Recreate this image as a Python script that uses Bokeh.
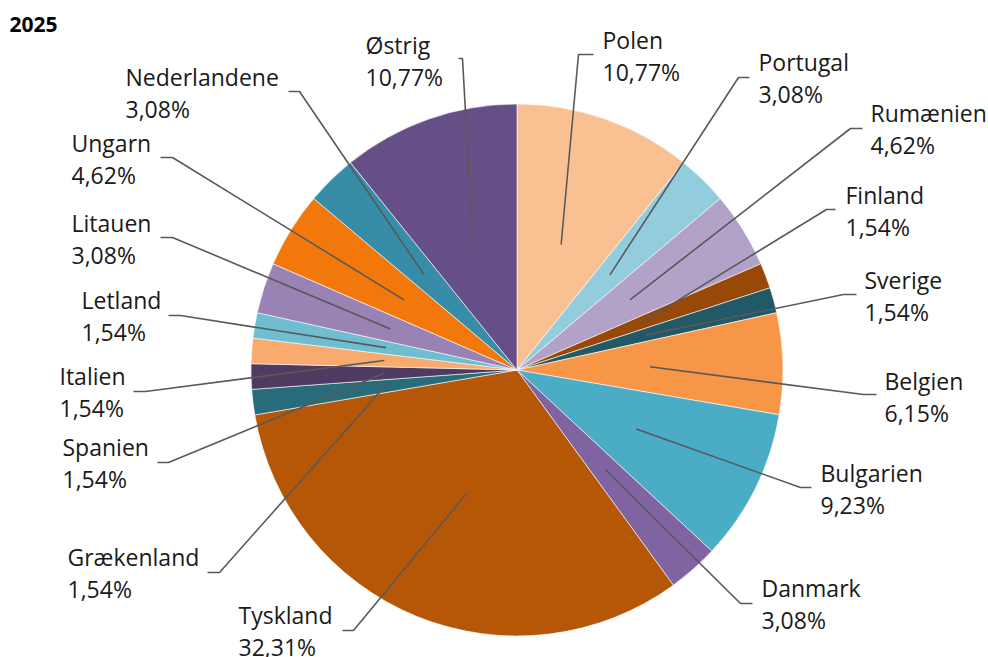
import math
from bokeh.plotting import figure
from bokeh.models import Range1d, ColumnDataSource
from bokeh.core.properties import value
from bokeh.embed import file_html
from bokeh.resources import INLINE

# ---- data ----
title_text = "2025"
countries = ["Polen", "Portugal", "Rumænien", "Finland", "Sverige", "Belgien",
             "Bulgarien", "Danmark", "Tyskland", "Grækenland", "Spanien", "Italien",
             "Letland", "Litauen", "Ungarn", "Nederlandene", "Østrig"]
shares = [10.77, 3.08, 4.62, 1.54, 1.54, 6.15, 9.23, 3.08, 32.31, 1.54, 1.54, 1.54,
          1.54, 3.08, 4.62, 3.08, 10.77]

# ---- styles ----
colors = ["#F9C192", "#93CDDD", "#B3A2C7", "#984807", "#215968", "#F79646",
          "#4BACC6", "#8064A2", "#B65708", "#286B7B", "#4F3A62", "#F9AA6E",
          "#6FBDD1", "#9983B5", "#F3780C", "#378DA7", "#664F86"]

# label layout (reference-pixel coordinates): text x, cap-centre y of first line,
# elbow point x, elbow y, end of short horizontal segment x
label_layout = [
    (602, 40, 578, 54, 593),
    (758, 62, 738, 77, 749),
    (870, 113, 850, 128, 862),
    (845, 195, 826, 209, 835),
    (864, 280, 843, 294, 856),
    (884, 381, 863, 394, 876),
    (820, 473, 800, 487, 811),
    (761, 588, 740, 603, 752),
    (238, 615, 353, 630, 342),
    (67, 557, 219, 572, 207),
    (62, 447, 168, 462, 157),
    (59, 376, 145, 391, 133),
    (81, 300, 180, 315, 168),
    (71, 223, 172, 237, 160),
    (71, 143, 172, 157, 160),
    (125, 77, 299, 91, 288),
    (365, 45, 462, 58, 458),
]

W, H = 988, 657
CX, CY_IMG, R = 516.5, 369.5, 266
FONT = "Open Sans"
FS = 23
LINE_GAP = 32
BASE_OFF = -1  # baseline offset from cap-centre as rendered


def Y(y_img):
    return H - y_img


p = figure(width=W, height=H, output_backend="svg", toolbar_location=None,
           x_range=Range1d(0, W), y_range=Range1d(0, H),
           x_axis_type=None, y_axis_type=None, min_border=0)
p.outline_line_color = None
p.grid.visible = False
p.background_fill_color = "white"

total = sum(shares)
starts, ends, mids = [], [], []
acc = 0.0
for v in shares:
    a0 = acc / total
    acc += v
    a1 = acc / total
    starts.append(math.pi / 2 - 2 * math.pi * a0)
    ends.append(math.pi / 2 - 2 * math.pi * a1)
    mids.append(math.pi / 2 - 2 * math.pi * (a0 + a1) / 2)

src = ColumnDataSource(dict(start=starts, end=ends, color=colors))
p.wedge(x=CX, y=Y(CY_IMG), radius=R, start_angle="start", end_angle="end",
        direction="clock", fill_color="color", line_color="white",
        line_width=0.6, source=src)

# leader lines
xs, ys = [], []
for m, (tx, ty, ex, ey, hx) in zip(mids, label_layout):
    sx = CX + 0.5 * R * math.cos(m)
    sy = Y(CY_IMG) + 0.5 * R * math.sin(m)
    xs.append([sx, ex, hx])
    ys.append([sy, Y(ey), Y(ey)])
p.multi_line(xs=xs, ys=ys, line_color="#595959", line_width=1.6)

# labels
names_src = ColumnDataSource(dict(
    x=[l[0] for l in label_layout],
    y=[Y(l[1] + BASE_OFF) for l in label_layout],
    t=countries))
pct_src = ColumnDataSource(dict(
    x=[l[0] for l in label_layout],
    y=[Y(l[1] + BASE_OFF + LINE_GAP) for l in label_layout],
    t=[f"{v:.2f}".replace(".", ",") + "%" for v in shares]))
for s in (names_src, pct_src):
    p.text(x="x", y="y", text="t", source=s, text_font=value(FONT),
           text_font_size=f"{FS}px", text_color="#1a1a1a",
           text_baseline="alphabetic", text_align="left")

p.text(x=[9], y=[Y(24)], text=[title_text], text_font=value(FONT),
       text_font_size="21px", text_font_style="bold", text_color="#000000",
       text_baseline="alphabetic", text_align="left")

open("out.html", "w").write(file_html(p, INLINE))
